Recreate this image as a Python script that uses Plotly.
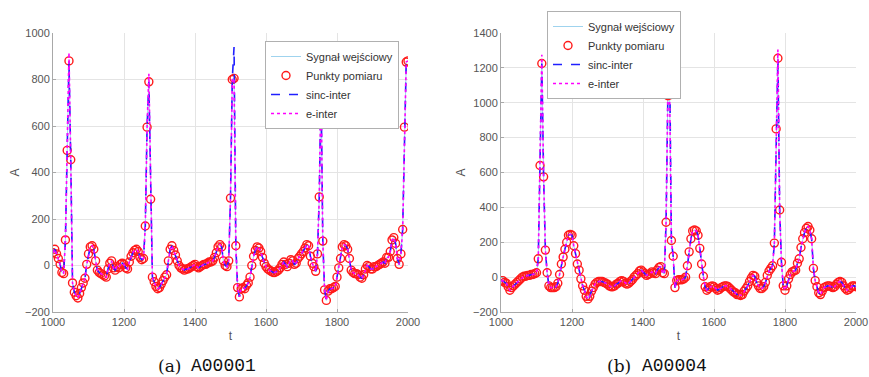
import plotly.graph_objects as go

# ---------------- data ----------------
t_start = 1000
t_step = 5

# A00001 measurement points, t = 1000..2000 step 5
amp_a = [
    55, 70, 50, 30, 5, -30, -35, 110, 495, 880,
    455, -75, -115, -130, -140, -120, -95, -75, -55, 5,
    50, 80, 85, 70, 20, -20, -30, -35, -40, -45,
    -50, -15, 10, 20, -10, -20, -5, -10, 5, 10,
    5, -10, -15, 15, 40, 55, 65, 70, 60, 35,
    25, 30, 170, 595, 790, 285, -50, -70, -90, -100,
    -95, -80, -65, -50, -40, 20, 70, 85, 65, 45,
    20, 0, -10, -15, -20, -15, -15, -10, -5, 0,
    5, -5, -10, -5, 0, 5, 5, 10, 15, 15,
    20, 35, 55, 80, 90, 80, 20, 0, -5, 20,
    290, 800, 805, 85, -95, -135, -100, -95, -100, -85,
    -75, -50, 0, 40, 65, 80, 75, 60, 35, 10,
    -5, -15, -20, -25, -30, -30, -25, -20, -10, 5,
    15, 5, -5, 10, 25, 20, 5, 10, 30, 40,
    50, 60, 75, 90, 85, 40, 10, -5, -25, 50,
    295, 780, 105, -105, -150, -110, -100, -100, -95, -90,
    -50, -10, 30, 80, 90, 85, 70, 30, -20, -30,
    -35, -35, -40, -50, -55, -40, -15, 0, -5, -15,
    -15, -5, -5, 0, 5, 10, 15, 10, 35, 35,
    60, 110, 120, 95, 30, 5, 50, 155, 595, 875,
    880,
]

# A00004 measurement points, t = 1000..2000 step 5
amp_b = [
    -20, -20, -30, -35, -55, -75, -60, -50, -40, -30,
    -20, -10, 0, 5, 5, 10, 10, 15, 15, 20,
    25, 105, 640, 1225, 575, 155, 25, -50, -60, -60,
    -60, -55, -35, 15, 75, 115, 160, 200, 240, 245,
    240, 180, 135, 75, 40, -10, -50, -75, -110, -125,
    -110, -80, -60, -40, -30, -25, -25, -25, -30, -35,
    -40, -50, -55, -55, -50, -40, -35, -25, -20, -25,
    -35, -40, -35, -25, -15, 0, 10, 20, 35, 40,
    30, 20, 10, 15, 20, 30, 25, 20, 40, 55,
    60, 25, 20, 315, 1040, 1045, 210, 120, -60, -20,
    -15, -15, -15, -10, 0, 65, 145, 220, 265, 270,
    265, 240, 165, 75, 5, -55, -75, -65, -55, -50,
    -55, -65, -75, -70, -60, -55, -50, -50, -55, -65,
    -75, -85, -90, -100, -100, -105, -100, -80, -65, -50,
    -25, -5, 10, 5, -30, -50, -65, -65, -55, -30,
    10, 35, 50, 65, 195, 850, 1255, 385, 85, -50,
    -75, -50, -10, 15, 30, 35, 40, 80, 105, 170,
    220, 255, 280, 290, 270, 220, 50, -20, -55, -90,
    -100, -80, -60, -55, -50, -50, -55, -60, -55, -40,
    -30, -25, -30, -50, -65, -75, -70, -60, -50, -50,
    -55,
]

# interpolation peaks that differ from the sampled points
sinc_peak_t_a = [1510]
sinc_peak_v_a = [940]
e_peak_t_a = [1045, 1270]
e_peak_v_a = [915, 825]
sinc_peak_t_b = [1475]
sinc_peak_v_b = [1230]
e_peak_t_b = [1115, 1780]
e_peak_v_b = [1275, 1305]

x_ticks = [1000, 1200, 1400, 1600, 1800, 2000]
y_ticks_a = [-200, 0, 200, 400, 600, 800, 1000]
y_ticks_b = [-200, 0, 200, 400, 600, 800, 1000, 1200, 1400]

names = ["Sygnał wejściowy", "Punkty pomiaru", "sinc-inter", "e-inter"]

assert len(amp_a) == 201 and len(amp_b) == 201

t = [t_start + i * t_step for i in range(len(amp_a))]


def with_peaks(vals, pt, pv):
    out = list(vals)
    for tt, vv in zip(pt, pv):
        out[(tt - t_start) // t_step] = vv
    return out


W, H = 869, 377
fig = go.Figure()


def add_panel(amp, sinc_t, sinc_v, e_t, e_v, xa, ya, lg):
    fig.add_trace(go.Scatter(x=t, y=amp, mode="lines", name=names[0],
                             line=dict(color="#9fd3ee", width=1),
                             xaxis=xa, yaxis=ya, legend=lg))
    fig.add_trace(go.Scatter(x=t, y=amp, mode="markers", name=names[1],
                             marker=dict(symbol="circle-open", size=8,
                                         color="#ff1a1a", line=dict(width=1.4)),
                             xaxis=xa, yaxis=ya, legend=lg))
    fig.add_trace(go.Scatter(x=t, y=with_peaks(amp, sinc_t, sinc_v), mode="lines",
                             name=names[2],
                             line=dict(color="#2020ff", width=1.6, dash="dash"),
                             xaxis=xa, yaxis=ya, legend=lg))
    fig.add_trace(go.Scatter(x=t, y=with_peaks(amp, e_t, e_v), mode="lines",
                             name=names[3],
                             line=dict(color="#ff00ff", width=1.6, dash="dot"),
                             xaxis=xa, yaxis=ya, legend=lg))


add_panel(amp_a, sinc_peak_t_a, sinc_peak_v_a, e_peak_t_a, e_peak_v_a, "x", "y", "legend")
add_panel(amp_b, sinc_peak_t_b, sinc_peak_v_b, e_peak_t_b, e_peak_v_b, "x2", "y2", "legend2")

tick_font = dict(family="Liberation Sans, Arial, sans-serif", size=11, color="#555555")
axis_common = dict(showgrid=True, gridcolor="#e4e4e4", gridwidth=1,
                   showline=True, linecolor="#a8a8a8", linewidth=1,
                   ticks="inside", ticklen=3, tickcolor="#a8a8a8",
                   tickfont=tick_font, zeroline=False, automargin=False)
lab_font = dict(size=12, color="#555555")

lx0, lx1 = 53 / W, 408 / W
rx0, rx1 = 501 / W, 856 / W
y0, y1 = 1 - 312 / H, 1 - 33 / H

fig.update_layout(
    width=W, height=H,
    margin=dict(l=0, r=0, t=0, b=0, autoexpand=False),
    paper_bgcolor="white", plot_bgcolor="white",
    font=dict(family="Liberation Sans, Arial, sans-serif", color="#333333"),
    xaxis=dict(domain=[lx0, lx1], range=[1000, 2000], tickvals=x_ticks,
               anchor="y", title=dict(text="t", standoff=4, font=lab_font),
               **axis_common),
    yaxis=dict(domain=[y0, y1], range=[-200, 1000], tickvals=y_ticks_a,
               anchor="x", title=dict(text="A", standoff=2, font=lab_font),
               **axis_common),
    xaxis2=dict(domain=[rx0, rx1], range=[1000, 2000], tickvals=x_ticks,
                anchor="y2", title=dict(text="t", standoff=4, font=lab_font),
                **axis_common),
    yaxis2=dict(domain=[y0, y1], range=[-200, 1400], tickvals=y_ticks_b,
                anchor="x2", title=dict(text="A", standoff=4, font=lab_font),
                **axis_common),
    legend=dict(x=399 / W, y=1 - 41 / H, xanchor="right", yanchor="top",
                bgcolor="white", bordercolor="#b0b0b0", borderwidth=1,
                font=dict(size=11, color="#333333"), itemwidth=30,
                tracegroupgap=0),
    legend2=dict(x=547 / W, y=1 - 11 / H, xanchor="left", yanchor="top",
                 bgcolor="white", bordercolor="#b0b0b0", borderwidth=1,
                 font=dict(size=11, color="#333333"), itemwidth=30,
                 tracegroupgap=0),
    showlegend=True,
)

cap_font = dict(family="DejaVu Serif, Liberation Serif, serif", size=17, color="#111111")
mono_font = dict(family="Liberation Mono, DejaVu Sans Mono, monospace", size=18, color="#111111")
for rx, lx, lab, code in [(182, 190, "(a)", "A00001"), (632, 641, "(b)", "A00004")]:
    fig.add_annotation(x=rx / W, y=1 - 366 / H, xref="paper", yref="paper",
                       text=lab, showarrow=False, xanchor="right", yanchor="middle",
                       font=cap_font, borderpad=0)
    fig.add_annotation(x=lx / W, y=1 - 366 / H, xref="paper", yref="paper",
                       text=code, showarrow=False, xanchor="left", yanchor="middle",
                       font=mono_font, borderpad=0)

fig.write_html("out.html",
               config={"displayModeBar": False},
               post_script="document.body.style.margin='0px';"
                           "document.body.style.overflow='hidden';")
